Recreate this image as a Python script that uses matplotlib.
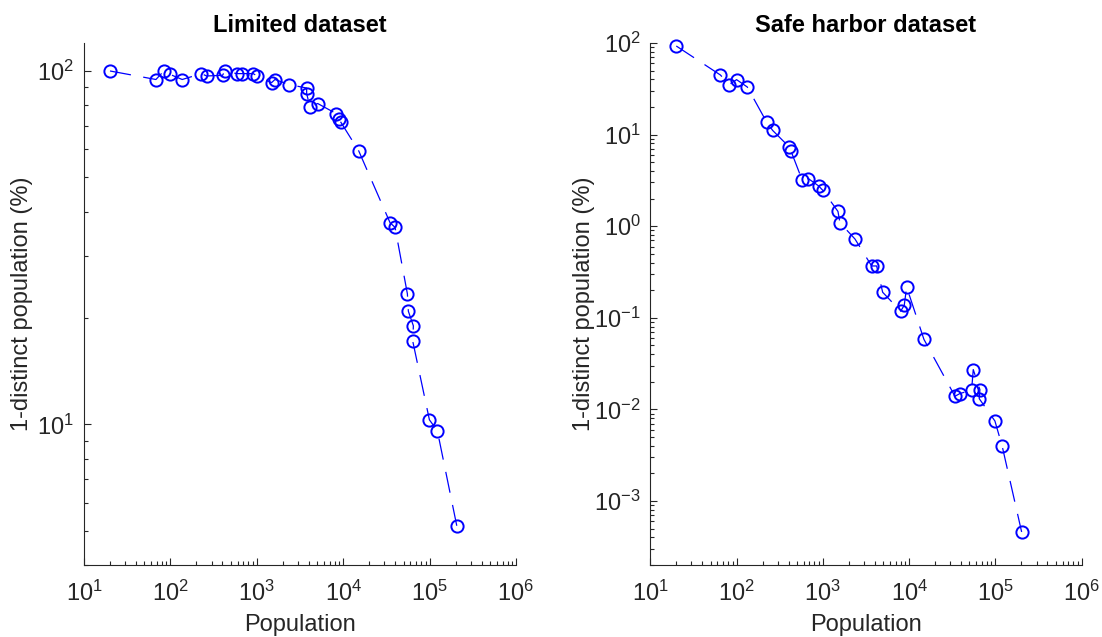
import numpy as np
import matplotlib
matplotlib.use("Agg")
import matplotlib.pyplot as plt
from matplotlib.ticker import LogLocator, NullFormatter

plt.rcParams['font.family'] = ['Liberation Sans', 'DejaVu Sans']
plt.rcParams['mathtext.fontset'] = 'custom'
plt.rcParams['mathtext.rm'] = 'Liberation Sans'
plt.rcParams['axes.unicode_minus'] = False

# Limited dataset
lim_pop = [20, 68, 84, 98, 137, 229, 262, 401, 427, 583, 677, 908, 1011,
           1484, 1622, 2373, 3776, 3776, 4122, 5068, 8258, 8872, 9426,
           15130, 34860, 39810, 55340, 56770, 64880, 63800, 99500, 123000, 206500]
lim_pct = [100, 94.6, 100, 97.9, 94.6, 98.3, 96.8, 97.2, 100, 98.3, 98.3, 98.3, 96.8,
           92.7, 94.6, 91.5, 89.5, 86.3, 79.1, 80.9, 75.8, 73.3, 71.5,
           59.4, 37.2, 36.1, 23.4, 20.9, 19.0, 17.2, 10.3, 9.59, 5.16]

# Safe harbor dataset
sh_pop = [20, 65, 82, 100, 133, 223, 262, 408, 427, 577, 677, 894, 995,
          1496, 1578, 2355, 3675, 4200, 4932, 7975, 8776, 9355, 14830,
          33960, 38810, 52970, 55340, 66100, 64890, 98650, 119900, 201300]
sh_pct = [92.7, 44.7, 35.1, 39.8, 33.1, 13.7, 11.1, 7.32, 6.62, 3.17, 3.31, 2.75, 2.47,
          1.45, 1.09, 0.725, 0.368, 0.368, 0.190, 0.118, 0.137, 0.217, 0.0582,
          0.0139, 0.0149, 0.0162, 0.0272, 0.0164, 0.0131, 0.00747, 0.00395, 0.000459]

W, H = 1102, 637
fig = plt.figure(figsize=(W / 100, H / 100), dpi=100)
grey = '#262626'
fs = 17

def make_axes(rect, pop, pct, ylim, title, ylab_x):
    ax = fig.add_axes(rect)
    ax.plot(pop, pct, color=(0, 0, 1), lw=0.9, linestyle=(0, (17, 10)),
            marker='o', markersize=8.8, markerfacecolor='none',
            markeredgecolor=(0, 0, 1), markeredgewidth=1.4, clip_on=False)
    ax.set_xscale('log')
    ax.set_yscale('log')
    ax.set_xlim(10, 1e6)
    ax.set_ylim(*ylim)
    for s in ['top', 'right']:
        ax.spines[s].set_visible(False)
    for s in ['left', 'bottom']:
        ax.spines[s].set_color(grey)
        ax.spines[s].set_linewidth(0.8)
    ax.xaxis.set_major_locator(LogLocator(base=10, numticks=10))
    ax.xaxis.set_minor_locator(LogLocator(base=10, subs=np.arange(2, 10), numticks=20))
    ax.yaxis.set_minor_locator(LogLocator(base=10, subs=np.arange(2, 10), numticks=20))
    ax.xaxis.set_minor_formatter(NullFormatter())
    ax.yaxis.set_minor_formatter(NullFormatter())
    ax.tick_params(which='both', direction='in', colors=grey, labelsize=fs, width=0.8)
    ax.tick_params(which='major', length=5)
    ax.tick_params(axis='y', which='major', pad=7)
    ax.tick_params(axis='x', which='major', pad=11)
    ax.tick_params(which='minor', length=3)
    ax.set_title(title, fontsize=fs, fontweight='bold', color='black', pad=8)
    ax.set_xlabel('Population', fontsize=fs, color=grey)
    ax.set_ylabel('1-distinct population (%)', fontsize=fs, color=grey)
    ax.xaxis.set_label_coords(0.5, -0.094)
    ax.yaxis.set_label_coords(ylab_x, 0.5)
    return ax

bottom = (H - 565) / H
height = 522 / H
make_axes([84 / W, bottom, 432 / W, height], lim_pop, lim_pct, (4, 120),
          'Limited dataset', -0.118)
make_axes([650.3 / W, bottom, 431.4 / W, height], sh_pop, sh_pct, (2e-4, 100),
          'Safe harbor dataset', -0.128)

fig.savefig('out.png', dpi=100)
